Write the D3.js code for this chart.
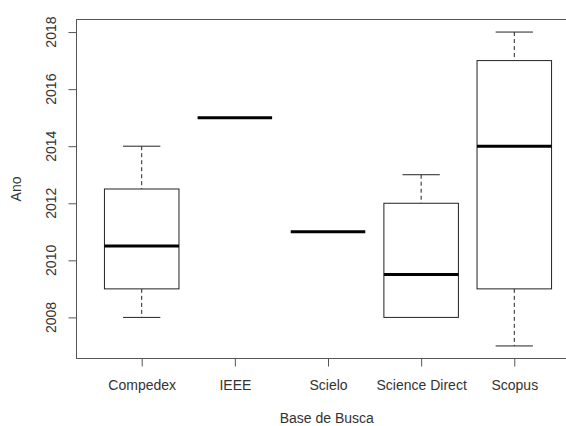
<!DOCTYPE html>
<html>
<head>
<meta charset="utf-8">
<script src="https://cdn.jsdelivr.net/npm/d3@7"></script>
<style>
  body { margin: 0; background: #fff; }
  text { font-family: "Liberation Sans", Arial, sans-serif; fill: #333; }
</style>
</head>
<body>
<svg id="chart"></svg>
<script>
//DATA
const categories = ["Compedex", "IEEE", "Scielo", "Science Direct", "Scopus"];
const lowWhisker = [2008, 2015, 2011, 2008, 2007];
const q1 = [2009, 2015, 2011, 2008, 2009];
const medians = [2010.5, 2015, 2011, 2009.5, 2014];
const q3 = [2012.5, 2015, 2011, 2012, 2017];
const highWhisker = [2014, 2015, 2011, 2013, 2018];
const yTicks = [2008, 2010, 2012, 2014, 2016, 2018];

//SET CONSTANTS
const width = 566;
const height = 426;
const plot = {left: 76.5, top: 19.5, right: 579.5, bottom: 358.5};

var chart = d3.select("#chart")
              .attr("width", width)
              .attr("height", height);

// R style: xlim 0.5..n+0.5 plus 4% each side
var xScale = d3.scaleLinear()
  .domain([0.3, categories.length + 0.7])
  .range([plot.left, plot.right]);

var yScale = d3.scaleLinear()
  .domain([2006.56, 2018.44])
  .range([plot.bottom, plot.top]);

const unit = xScale(2) - xScale(1);
const boxW = unit * 0.8;
const capW = unit * 0.4;

var boxes = chart.selectAll("g.box")
  .data(categories.map((c, i) => ({
    name: c, pos: i + 1, lo: lowWhisker[i], q1: q1[i], med: medians[i], q3: q3[i], hi: highWhisker[i]
  })))
  .enter().append("g")
  .attr("class", "box");

// whiskers (dashed)
boxes.append("line")
  .attr("x1", d => xScale(d.pos)).attr("x2", d => xScale(d.pos))
  .attr("y1", d => yScale(d.hi)).attr("y2", d => yScale(d.q3))
  .attr("stroke", "#222").attr("stroke-dasharray", "4,3");
boxes.append("line")
  .attr("x1", d => xScale(d.pos)).attr("x2", d => xScale(d.pos))
  .attr("y1", d => yScale(d.q1)).attr("y2", d => yScale(d.lo))
  .attr("stroke", "#222").attr("stroke-dasharray", "4,3");

// caps
boxes.filter(d => d.hi > d.q3).append("line")
  .attr("x1", d => xScale(d.pos) - capW / 2).attr("x2", d => xScale(d.pos) + capW / 2)
  .attr("y1", d => yScale(d.hi)).attr("y2", d => yScale(d.hi))
  .attr("stroke", "#222");
boxes.filter(d => d.lo < d.q1).append("line")
  .attr("x1", d => xScale(d.pos) - capW / 2).attr("x2", d => xScale(d.pos) + capW / 2)
  .attr("y1", d => yScale(d.lo)).attr("y2", d => yScale(d.lo))
  .attr("stroke", "#222");

// boxes
boxes.filter(d => d.q3 > d.q1).append("rect")
  .attr("x", d => xScale(d.pos) - boxW / 2)
  .attr("y", d => yScale(d.q3))
  .attr("width", boxW)
  .attr("height", d => yScale(d.q1) - yScale(d.q3))
  .attr("fill", "white")
  .attr("stroke", "#222");

// medians
boxes.append("line")
  .attr("x1", d => xScale(d.pos) - boxW / 2).attr("x2", d => xScale(d.pos) + boxW / 2)
  .attr("y1", d => yScale(d.med)).attr("y2", d => yScale(d.med))
  .attr("stroke", "#000").attr("stroke-width", 3);

//Frame
chart.append("rect")
  .attr("x", plot.left).attr("y", plot.top)
  .attr("width", plot.right - plot.left).attr("height", plot.bottom - plot.top)
  .attr("fill", "none").attr("stroke", "#555");

//Axis appendating...
var yAxis = chart.append("g")
  .attr("transform", "translate(" + plot.left + ",0)")
  .call(d3.axisLeft(yScale).tickValues(yTicks).tickSize(8).tickFormat(""));
yAxis.select(".domain").remove();
yAxis.selectAll("line").attr("stroke", "#555");

yTicks.forEach(t => {
  chart.append("text")
    .attr("transform", "translate(56," + yScale(t) + ") rotate(-90)")
    .attr("text-anchor", "middle")
    .style("font-size", "14px")
    .text(t);
});

var xAxis = chart.append("g")
  .attr("transform", "translate(0," + plot.bottom + ")")
  .call(d3.axisBottom(xScale).tickValues(categories.map((c, i) => i + 1)).tickSize(8)
    .tickFormat((d) => categories[d - 1]));
xAxis.select(".domain").remove();
xAxis.selectAll("line").attr("stroke", "#555");
xAxis.selectAll("text")
  .attr("y", 0).attr("dy", null)
  .attr("transform", "translate(0,31)")
  .style("font-size", "14px")
  .style("font-family", "'Liberation Sans', Arial, sans-serif")
  .attr("fill", "#333");

// titles
chart.append("text")
  .attr("x", (plot.left + 566 + 11) / 2 + 0).attr("y", 423)
  .attr("text-anchor", "middle")
  .style("font-size", "14px")
  .text("Base de Busca");

chart.append("text")
  .attr("transform", "translate(21," + (plot.top + plot.bottom) / 2 + ") rotate(-90)")
  .attr("text-anchor", "middle")
  .style("font-size", "14px")
  .text("Ano");
</script>
</body>
</html>
